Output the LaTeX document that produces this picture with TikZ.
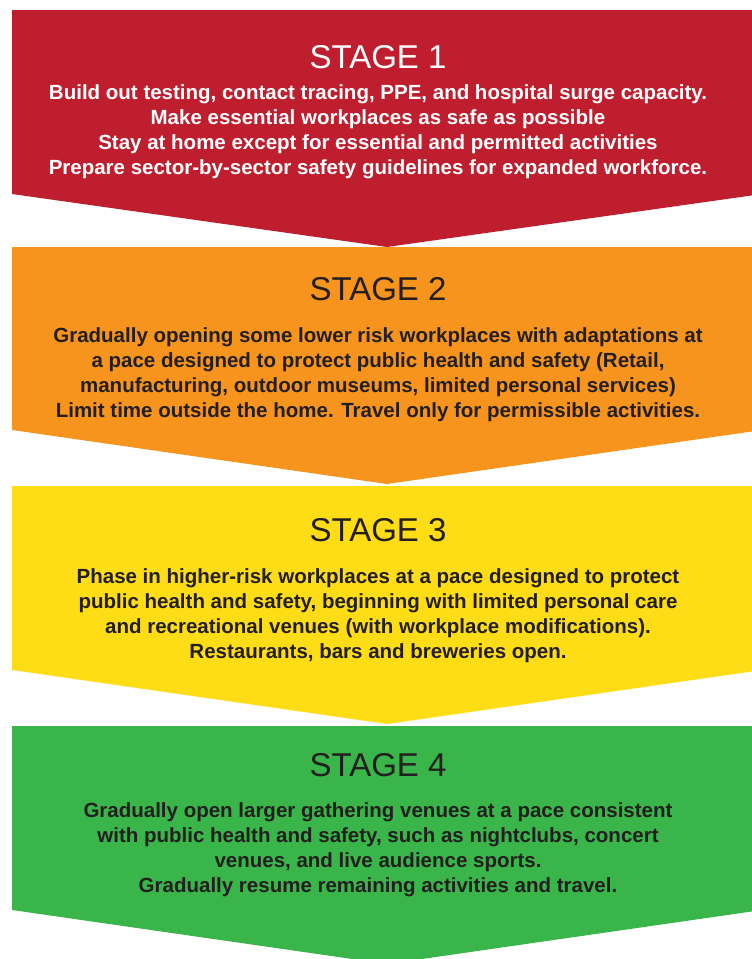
\documentclass[tikz,border=0pt]{standalone}
\usepackage{fontspec}
\setmainfont{Liberation Sans}
\definecolor{stagered}{HTML}{BE1E2D}
\definecolor{stageorange}{HTML}{F7941D}
\definecolor{stageyellow}{HTML}{FEDD17}
\definecolor{stagegreen}{HTML}{39B54A}
\definecolor{stageink}{HTML}{231F20}

\begin{document}
\begin{tikzpicture}[x=1pt,y=-1pt,
    title/.style={anchor=base,inner sep=0pt,font=\fontsize{33}{33}\selectfont},
    body/.style={anchor=base,inner sep=0pt,align=center,font=\bfseries\fontsize{20.5}{25.2}\selectfont}]
    \clip (0,0) rectangle (752,959);
    \fill[white] (0,0) rectangle (752,959);
    % chevrons, one per stage
    \fill[stagered] (12,10) -- (762,10) -- (762,194) -- (387,247) -- (12,194) -- cycle;
    \fill[stageorange] (12,247) -- (762,247) -- (762,430) -- (387,484) -- (12,430) -- cycle;
    \fill[stageyellow] (12,486) -- (762,486) -- (762,670) -- (387,724) -- (12,670) -- cycle;
    \fill[stagegreen] (12,726) -- (762,726) -- (762,910) -- (387,964) -- (12,910) -- cycle;
    % stage 1 (body anchored at its last baseline)
    \node[title,text=white] (t1) at (378,68) {STAGE 1};
    \node[body,text=white] (b1) at (378,174.6) {Build out testing, contact tracing, PPE, and hospital surge capacity.\\Make essential workplaces as safe as possible\\Stay at home except for essential and permitted activities\\Prepare sector-by-sector safety guidelines for expanded workforce.};
    % stage 2
    \node[title,text=stageink] (t2) at (378,300) {STAGE 2};
    \node[body,text=stageink] (b2) at (378,417.6) {Gradually opening some lower risk workplaces with adaptations at\\a pace designed to protect public health and safety (Retail,\\manufacturing, outdoor museums, limited personal services)\\Limit time outside the home. Travel only for permissible activities.};
    % stage 3
    \node[title,text=stageink] (t3) at (378,541) {STAGE 3};
    \node[body,text=stageink] (b3) at (378,658.6) {Phase in higher-risk workplaces at a pace designed to protect\\public health and safety, beginning with limited personal care\\and recreational venues (with workplace modifications).\\Restaurants, bars and breweries open.};
    % stage 4
    \node[title,text=stageink] (t4) at (378,776) {STAGE 4};
    \node[body,text=stageink] (b4) at (378,892.6) {Gradually open larger gathering venues at a pace consistent\\with public health and safety, such as nightclubs, concert\\venues, and live audience sports.\\Gradually resume remaining activities and travel.};
\end{tikzpicture}
\end{document}
